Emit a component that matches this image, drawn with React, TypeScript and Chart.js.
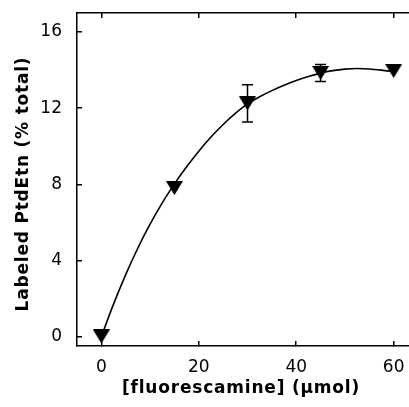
import { useEffect, useRef } from "react";
import { Chart, registerables } from "chart.js";

Chart.register(...registerables);

const xTicks = [0, 20, 40, 60];
const yTicks = [0, 4, 8, 12, 16];
const doseX = [0, 15, 30, 45, 60];
const labeledY = [0, 7.8, 12.25, 13.85, 13.95];
const errY = [0, 0, 0.98, 0.45, 0];
const curveX = [0, 2.5, 5, 7.5, 10, 12.5, 15, 17.5, 20, 22.5, 25, 27.5, 30, 32.5, 35, 37.5, 40, 42.5, 45, 47.5, 50, 52.5, 55, 57.5, 60];
const curveY = [0, 1.7, 3.25, 4.65, 5.9, 7.02, 8.02, 8.92, 9.74, 10.48, 11.14, 11.72, 12.22, 12.6, 12.92, 13.2, 13.45, 13.66, 13.84, 13.97, 14.05, 14.08, 14.06, 14.0, 13.92];
const xTitle = "[fluorescamine] (\u00b5mol)";
const yTitle = "Labeled PtdEtn (% total)";

function makeTriangle(): HTMLCanvasElement {
  const c = document.createElement("canvas");
  c.width = 17;
  c.height = 14;
  const g = c.getContext("2d")!;
  g.fillStyle = "#000";
  g.beginPath();
  g.moveTo(0, 0);
  g.lineTo(17, 0);
  g.lineTo(8.5, 14);
  g.closePath();
  g.fill();
  return c;
}

const errorBars = {
  id: "errorBars",
  afterDatasetsDraw(chart: any) {
    const { ctx, scales } = chart;
    const x = scales.x;
    const y = scales.y;
    ctx.save();
    ctx.strokeStyle = "#000";
    ctx.lineWidth = 1.5;
    doseX.forEach((d, i) => {
      const e = errY[i];
      if (!e) return;
      const px = x.getPixelForValue(d);
      const top = y.getPixelForValue(labeledY[i] + e);
      const bot = y.getPixelForValue(labeledY[i] - e);
      ctx.beginPath();
      ctx.moveTo(px, top);
      ctx.lineTo(px, bot);
      ctx.moveTo(px - 5.5, top);
      ctx.lineTo(px + 5.5, top);
      ctx.moveTo(px - 5.5, bot);
      ctx.lineTo(px + 5.5, bot);
      ctx.stroke();
    });
    ctx.restore();
  },
};

const axisTitles = {
  id: "axisTitles",
  afterDraw(chart: any) {
    const { ctx } = chart;
    ctx.save();
    ctx.fillStyle = "#000";
    ctx.font = "bold 17px 'DejaVu Sans'";
    (ctx as any).letterSpacing = "0.8px";
    ctx.textAlign = "center";
    ctx.textBaseline = "middle";
    ctx.fillText(xTitle, 241, 389);
    ctx.translate(24, 184);
    ctx.rotate(-Math.PI / 2);
    ctx.fillText(yTitle, 0, 0);
    ctx.restore();
  },
};

export default function App() {
  const ref = useRef<HTMLCanvasElement>(null);
  useEffect(() => {
    const tri = makeTriangle();
    const tickFont = { family: "'DejaVu Sans'", size: 17 };
    const grid = {
      drawOnChartArea: false,
      drawTicks: true,
      tickLength: -5,
      color: "#000",
      lineWidth: 1.5,
    };
    const border = { display: true, color: "#000", width: 1.5 };
    const zeroPad = (s: any) => {
      s.paddingTop = 0;
      s.paddingBottom = 0;
      s.paddingLeft = 0;
      s.paddingRight = 0;
    };
    const chart = new Chart(ref.current!, {
      type: "scatter",
      data: {
        datasets: [
          {
            type: "line",
            data: curveX.map((v, i) => ({ x: v, y: curveY[i] })),
            borderColor: "#000",
            borderWidth: 1.6,
            pointRadius: 0,
            tension: 0.4,
            cubicInterpolationMode: "monotone",
            fill: false,
          } as any,
          {
            data: doseX.map((v, i) => ({ x: v, y: labeledY[i] })),
            pointStyle: tri as any,
            pointRadius: 9,
            backgroundColor: "#000",
            borderColor: "#000",
            showLine: false,
          },
        ],
      },
      options: {
        animation: false,
        responsive: false,
        devicePixelRatio: 1,
        layout: { padding: { left: 0, top: 13, right: 12, bottom: 0 } },
        plugins: { legend: { display: false }, tooltip: { enabled: false } },
        scales: {
          x: {
            type: "linear",
            position: "bottom",
            min: -5,
            max: 65,
            afterBuildTicks: (s: any) => {
              s.ticks = xTicks.map((v) => ({ value: v }));
            },
            afterFit: (s: any) => {
              s.height = 61;
              zeroPad(s);
            },
            ticks: { font: tickFont, color: "#000", padding: 16, maxRotation: 0 },
            grid,
            border,
          },
          x2: {
            type: "linear",
            position: "top",
            min: -5,
            max: 65,
            afterBuildTicks: (s: any) => {
              s.ticks = xTicks.map((v) => ({ value: v }));
            },
            afterFit: (s: any) => {
              s.height = 0;
              zeroPad(s);
            },
            ticks: { display: false },
            grid,
            border,
          },
          y: {
            type: "linear",
            position: "left",
            min: -0.5,
            max: 17,
            afterBuildTicks: (s: any) => {
              s.ticks = yTicks.map((v) => ({ value: v }));
            },
            afterFit: (s: any) => {
              s.width = 77;
              zeroPad(s);
            },
            ticks: { font: tickFont, color: "#000", padding: 20 },
            grid,
            border,
          },
        },
      },
      plugins: [errorBars, axisTitles],
    });
    return () => chart.destroy();
  }, []);
  return (
    <div style={{ position: "fixed", left: 0, top: 0, width: 430, height: 407, background: "#fff" }}>
      <canvas ref={ref} width={430} height={407} style={{ width: 430, height: 407 }} />
    </div>
  );
}
